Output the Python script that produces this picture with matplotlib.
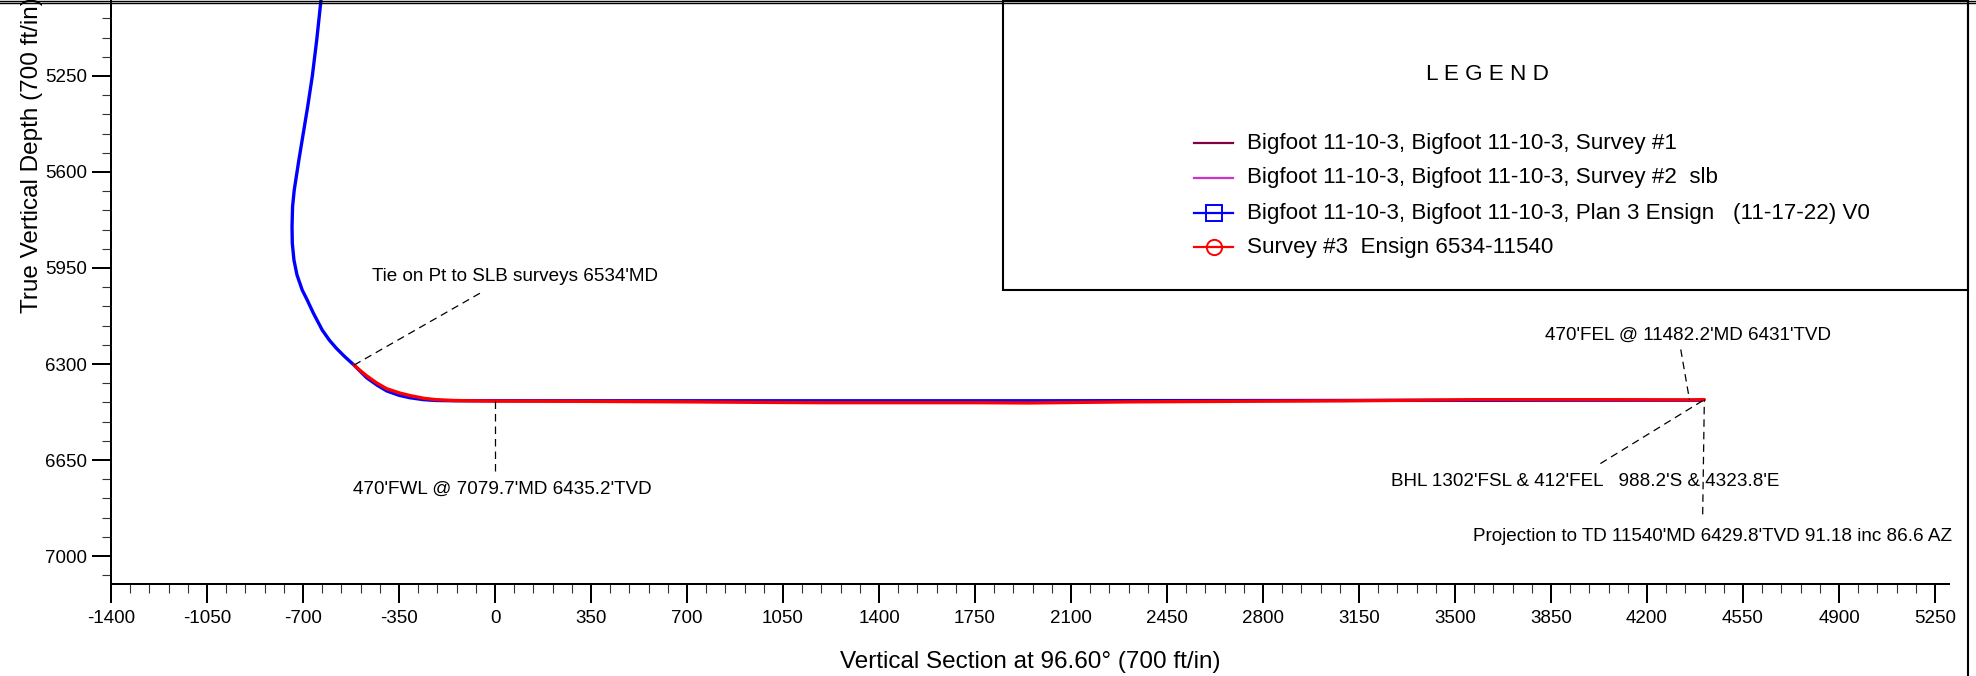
import matplotlib
matplotlib.use("Agg")
import matplotlib.pyplot as plt
from matplotlib.lines import Line2D
from matplotlib.patches import Rectangle
import numpy as np

plt.rcParams['font.family'] = ['Liberation Sans', 'DejaVu Sans']

# ---------------- data ----------------
plan_vs = [-633, -650, -666, -683, -699, -715, -732, -738, -740, -739, -733, -722,
           -703, -685, -662, -630, -604, -578, -548, -514,
           -490, -468, -430, -395, -350, -310, -260, -215, -150, 0,
           1000, 2000, 3000, 4000, 4400]
plan_tvd = [4960, 5119, 5250, 5362, 5459, 5556, 5666, 5726, 5799, 5860, 5921, 5975,
            6030, 6066, 6115, 6176, 6213, 6243, 6273, 6304,
            6328, 6350, 6377, 6398, 6414, 6423, 6430, 6433, 6434, 6434,
            6434, 6434, 6433, 6432, 6432]

survey3_vs = [-514, -490, -468, -430, -395, -350, -310, -260, -215, -150, -100, 0,
              300, 700, 1000, 1200, 1763, 1945, 2309, 2700, 3099, 3583, 4000, 4355, 4409]
survey3_tvd = [6304, 6325, 6343, 6370, 6390, 6405, 6415, 6425, 6430, 6433, 6434, 6435.2,
               6436, 6438, 6440, 6441, 6441, 6442, 6438, 6436, 6434, 6430, 6430, 6431, 6429.8]

x_ticks = list(range(-1400, 5251, 350))
y_ticks = list(range(5250, 7001, 350))

legend_labels = ["Bigfoot 11-10-3, Bigfoot 11-10-3, Survey #1",
                 "Bigfoot 11-10-3, Bigfoot 11-10-3, Survey #2  slb",
                 "Bigfoot 11-10-3, Bigfoot 11-10-3, Plan 3 Ensign   (11-17-22) V0",
                 "Survey #3  Ensign 6534-11540"]
legend_colors = ["#800040", "#cc33cc", "#0000ff", "#ff0000"]
legend_markers = [None, None, "s", "o"]

annotations = [
    ("Tie on Pt to SLB surveys 6534'MD", 74, 5982, [(-514, 6304), (-55, 6042)]),
    ("470'FWL @ 7079.7'MD 6435.2'TVD", 25, 6756, [(0, 6436), (0, 6691)]),
    ("470'FEL @ 11482.2'MD 6431'TVD", 4350, 6194, [(4323, 6247), (4355, 6431)]),
    ("BHL 1302'FSL & 412'FEL   988.2'S & 4323.8'E", 3974, 6727, [(4030, 6663), (4409, 6430)]),
    ("Projection to TD 11540'MD 6429.8'TVD 91.18 inc 86.6 AZ", 4440, 6930, [(4403, 6848), (4409, 6430)]),
]

# ---------------- figure ----------------
W, H = 1976, 676
fig = plt.figure(figsize=(W / 100, H / 100), dpi=100)

def fx(px):
    return px / W

def fy(py):
    return 1 - py / H

ax = fig.add_axes([fx(111), fy(584), (1949 - 111) / W, 584 / H])

ax.plot(plan_vs, plan_tvd, color="#0000ff", lw=2.4, solid_capstyle="round",
        solid_joinstyle="round", zorder=3)
ax.plot(survey3_vs, survey3_tvd, color="#ff0000", lw=2.4, solid_capstyle="round",
        solid_joinstyle="round", zorder=4)

for txt, tx, ty, pts in annotations:
    (x0, y0), (x1, y1) = pts
    ax.plot([x0, x1], [y0, y1], color="black", lw=0.9, dashes=(6, 4), zorder=5)
    ax.text(tx, ty, txt, ha="center", va="center", fontsize=13.55, clip_on=False, zorder=6)

ax.set_xticks(x_ticks)
ax.set_xticks(np.arange(-1400, 5301, 70), minor=True)
ax.set_yticks(y_ticks)
ax.set_yticks(np.arange(4970, 7101, 70), minor=True)
ax.set_xticklabels([str(v) for v in x_ticks])
ax.set_yticklabels([str(v) for v in y_ticks])
ax.set_xlim(-1400, 5301)
ax.set_ylim(7102, 4973)

ax.tick_params(which="major", direction="out", length=13.7, width=1.44, labelsize=13.5, colors="black")
ax.tick_params(axis="x", which="major", pad=5)
ax.tick_params(axis="y", which="major", pad=3.6)
ax.tick_params(which="minor", direction="out", length=6.8, width=0.8, color="#333333")

for s in ["top", "right"]:
    ax.spines[s].set_visible(False)
for s in ["left", "bottom"]:
    ax.spines[s].set_linewidth(1.44)

fig.text(fx(1030), fy(662), "Vertical Section at 96.60\u00b0 (700 ft/in)",
         ha="center", va="center", fontsize=17.5)
fig.text(fx(32), fy(155), "True Vertical Depth (700 ft/in)", rotation=90,
         ha="center", va="center", fontsize=17.5)

# ---------------- borders ----------------
fig.add_artist(Line2D([0, 1], [fy(0.7), fy(0.7)], transform=fig.transFigure, color="black", lw=1.0))
fig.add_artist(Line2D([0, 1], [fy(3.3), fy(3.3)], transform=fig.transFigure, color="black", lw=1.0))
fig.add_artist(Line2D([fx(1968), fx(1968)], [0, 1], transform=fig.transFigure, color="black", lw=1.5))

# ---------------- legend box ----------------
fig.add_artist(Rectangle((fx(1003), fy(290)), (1968 - 1003) / W, 290 / H,
                         transform=fig.transFigure, fill=False, edgecolor="black", lw=1.5))
fig.text(fx(1487), fy(74), "L E G E N D", ha="center", va="center", fontsize=16.2)
entry_y = [143, 178, 213, 247]
for lab, col, mk, yy in zip(legend_labels, legend_colors, legend_markers, entry_y):
    fig.add_artist(Line2D([fx(1194), fx(1233)], [fy(yy), fy(yy)], transform=fig.transFigure,
                          color=col, lw=1.6))
    if mk is not None:
        fig.add_artist(Line2D([fx(1213.5)], [fy(yy)], transform=fig.transFigure, marker=mk,
                              markersize=11, markerfacecolor="none", markeredgecolor=col,
                              markeredgewidth=1.4, linestyle="none"))
    fig.text(fx(1247), fy(yy), lab, ha="left", va="center", fontsize=16.1)

fig.savefig("out.png", dpi=100)
